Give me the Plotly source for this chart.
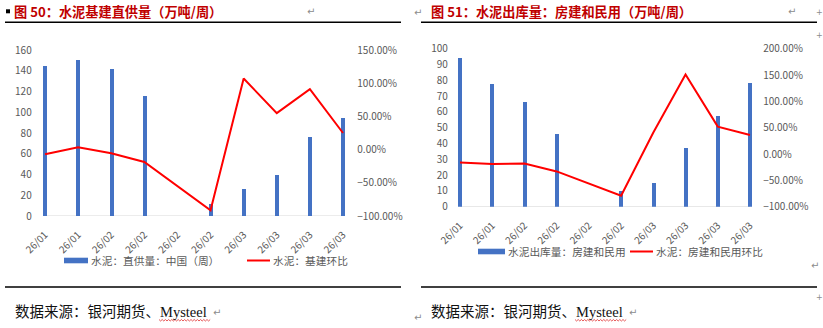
import plotly.graph_objects as go

# ---- data -------------------------------------------------------------
dates = ["26/01", "26/01", "26/02", "26/02", "26/02",
         "26/02", "26/03", "26/03", "26/03", "26/03"]

# 水泥：直供量：中国（周），万吨
infra_supply = [145, 150, 142, 116, None, 12, 26, 40, 76, 94]
# 水泥：基建环比，%
infra_mom = [-7.0, 3.5, -5.5, -18.6, None, -91.4, 107.0, 55.0, 91.0, 25.0]

# 水泥出库量：房建和民用，万吨
housing_out = [94, 78, 66.5, 46, None, 10, 15, 37.6, 57.4, 78.5]
# 水泥：房建和民用环比，%
housing_mom = [-16.0, -19.0, -18.0, -33.0, None, -79.0, 41.0, 151.0, 52.0, 36.0]

# ---- styling ----------------------------------------------------------
W, H = 823, 328
BLUE = "#4472C4"
RED = "#FF0000"
GREY = "#595959"
TITLE_RED = "#C00000"
CJK = "Noto Sans CJK SC"


def fx(px):
    return px / W


def fy(py):
    return 1 - py / H


idx = list(range(len(dates)))


def pct(vals):
    return [None if v is None else v / 100 for v in vals]


fig = go.Figure()

# left panel
fig.add_trace(go.Bar(x=idx, y=infra_supply, width=0.12, marker_color=BLUE,
                     marker_line_width=0, xaxis="x", yaxis="y",
                     name="水泥：直供量：中国（周）", showlegend=False))
fig.add_trace(go.Scatter(x=idx, y=pct(infra_mom), mode="lines", connectgaps=True,
                         line=dict(color=RED, width=2), xaxis="x", yaxis="y2",
                         name="水泥：基建环比", showlegend=False))
# right panel
fig.add_trace(go.Bar(x=idx, y=housing_out, width=0.125, marker_color=BLUE,
                     marker_line_width=0, xaxis="x2", yaxis="y3",
                     name="水泥出库量：房建和民用", showlegend=False))
fig.add_trace(go.Scatter(x=idx, y=pct(housing_mom), mode="lines", connectgaps=True,
                         line=dict(color=RED, width=2), xaxis="x2", yaxis="y4",
                         name="水泥：房建和民用环比", showlegend=False))

tickfont = dict(family=CJK, size=10, color=GREY)

xcommon = dict(range=[-0.1, 9.1], tickmode="array", tickvals=idx, ticktext=dates,
               tickangle=-45, showgrid=False, zeroline=False, showline=False,
               ticks="", tickfont=tickfont, ticklabelstandoff=10, automargin=False)
ycommon = dict(showgrid=False, zeroline=False, showline=False, ticks="",
               tickfont=tickfont, automargin=False)

fig.update_layout(
    template="none",
    width=W, height=H,
    margin=dict(l=0, r=0, t=0, b=0, pad=0),
    paper_bgcolor="white", plot_bgcolor="rgba(0,0,0,0)",
    bargap=0,
    xaxis=dict(domain=[fx(41.7), fx(346.3)], anchor="y", **xcommon),
    yaxis=dict(domain=[fy(216), fy(50)], range=[0, 160], dtick=20, anchor="x",
               ticklabelstandoff=9, **ycommon),
    yaxis2=dict(range=[-1, 1.5], dtick=0.5, tickformat=".2%", overlaying="y",
                side="right", anchor="x", ticklabelstandoff=10, **ycommon),
    xaxis2=dict(domain=[fx(456.8), fx(753.2)], anchor="y3", **xcommon),
    yaxis3=dict(domain=[fy(206.7), fy(48.7)], range=[0, 100], dtick=10, anchor="x2",
                ticklabelstandoff=8, **ycommon),
    yaxis4=dict(range=[-1, 2], dtick=0.5, tickformat=".2%", overlaying="y3",
                side="right", anchor="x2", ticklabelstandoff=9, **ycommon),
)

shapes = []
annotations = []

# category-axis baselines, spanning first to last category
shapes.append(dict(type="line", xref="x", yref="y", x0=0, x1=9, y0=0, y1=0,
                   line=dict(color="#D9D9D9", width=1), layer="below"))
shapes.append(dict(type="line", xref="x2", yref="y3", x0=0, x1=9, y0=0, y1=0,
                   line=dict(color="#D9D9D9", width=1), layer="below"))

# title rules and bottom rules
for x0, x1 in [(5, 401), (421, 817)]:
    shapes.append(dict(type="line", xref="paper", yref="paper",
                       x0=fx(x0), x1=fx(x1), y0=fy(22.3), y1=fy(22.3),
                       line=dict(color="black", width=1.5)))
    shapes.append(dict(type="line", xref="paper", yref="paper",
                       x0=fx(x0), x1=fx(x1), y0=fy(287), y1=fy(287),
                       line=dict(color="black", width=1.5)))

# bullet square before the first title
shapes.append(dict(type="rect", xref="paper", yref="paper",
                   x0=fx(6), x1=fx(10), y0=fy(13.3), y1=fy(9.3),
                   fillcolor="black", line=dict(width=0)))


def text(x, y, s, size, color, family=CJK, bold=False, anchor="left"):
    annotations.append(dict(
        xref="paper", yref="paper", x=fx(x), y=fy(y), text=f"<b>{s}</b>" if bold else s,
        showarrow=False, xanchor=anchor, yanchor="middle",
        font=dict(family=family, size=size, color=color), borderpad=0))


# titles
text(13, 11, "图 50：水泥基建直供量（万吨/周）", 13.2, TITLE_RED, bold=True)
text(430, 11, "图 51：水泥出库量：房建和民用（万吨/周）", 13.2, TITLE_RED, bold=True)

# legends
legend_rows = [
    (64, 88, 247, 270, 260.5, "水泥：直供量：中国（周）", "水泥：基建环比"),
    (478, 505, 630, 653, 251.5, "水泥出库量：房建和民用", "水泥：房建和民用环比"),
]
for bx0, bx1, lx0, lx1, ly, bar_name, line_name in legend_rows:
    shapes.append(dict(type="rect", xref="paper", yref="paper",
                       x0=fx(bx0), x1=fx(bx1), y0=fy(ly + 2.8), y1=fy(ly - 2.8),
                       fillcolor=BLUE, line=dict(width=0)))
    text(bx1 + 2, ly, bar_name, 10.7, GREY)
    shapes.append(dict(type="line", xref="paper", yref="paper",
                       x0=fx(lx0), x1=fx(lx1), y0=fy(ly), y1=fy(ly),
                       line=dict(color=RED, width=2)))
    text(lx1 + 2, ly, line_name, 10.7, GREY)

# source notes
SRC_FONT = "Liberation Serif, " + CJK
text(14, 311.5, "数据来源：银河期货、Mysteel", 14.5, "#111111", family=SRC_FONT)
text(430, 311.5, "数据来源：银河期货、Mysteel", 14.5, "#111111", family=SRC_FONT)

# spell-check squiggle under "Mysteel"
for x0, x1 in [(159, 211), (575, 627)]:
    pts = []
    x = x0
    k = 0
    while x <= x1:
        yy = 320 + (1 if k % 2 else -0.5)
        pts.append(f"{fx(x):.5f},{fy(yy):.5f}")
        x += 1.6
        k += 1
    shapes.append(dict(type="path", xref="paper", yref="paper",
                       path="M " + " L ".join(pts),
                       line=dict(color="#E03030", width=0.8)))

# paragraph marks
MARK = "#8C8C8C"
for mx, my in [(306, 11), (413, 12), (787, 11), (810, 265),
               (212, 312), (413, 317), (628, 312)]:
    text(mx, my, "↵", 10, MARK, family="DejaVu Sans")
for mx, my in [(819, 12), (819, 36), (819, 297)]:
    text(mx, my, "+", 8, MARK, family="DejaVu Sans", anchor="center")

fig.update_layout(shapes=shapes, annotations=annotations)

fig.write_html("out.html")
